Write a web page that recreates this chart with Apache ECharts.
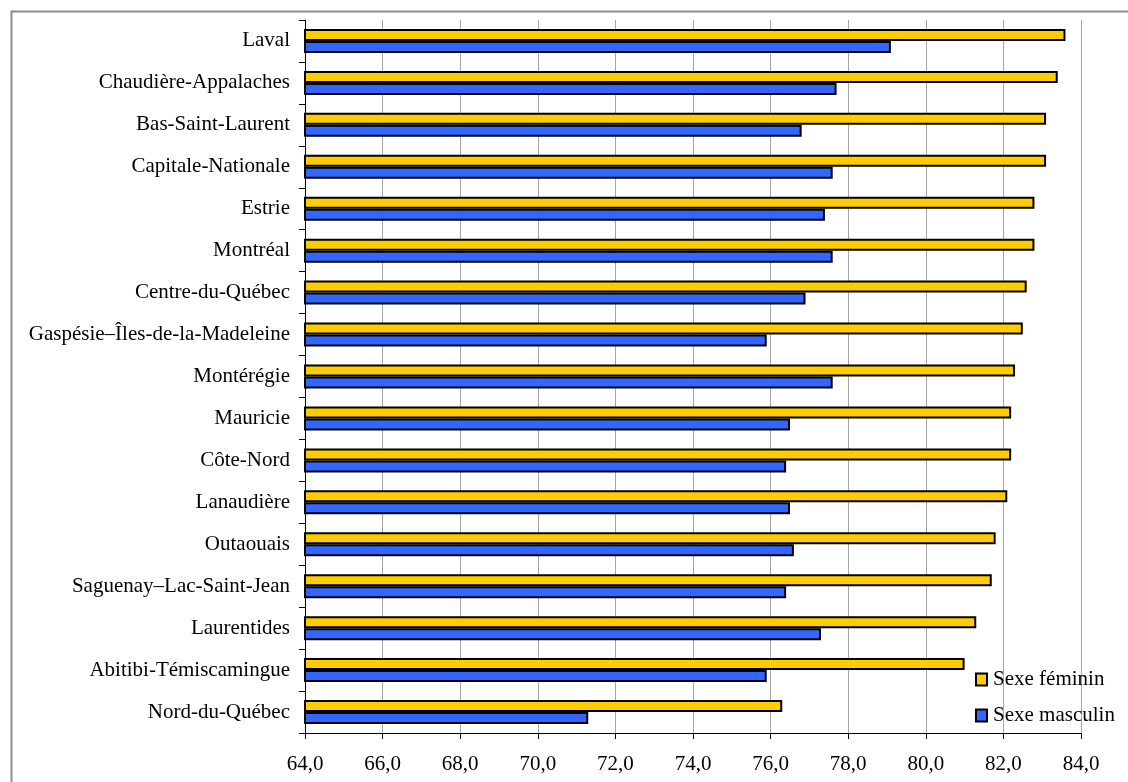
<!DOCTYPE html>
<html>
<head>
<meta charset="utf-8">
<script src="https://cdn.jsdelivr.net/npm/echarts@6/dist/echarts.min.js"></script>
<style>
html,body{margin:0;padding:0;background:#fff;}
#chart{width:1128px;height:782px;}
</style>
</head>
<body>
<div id="chart"></div>
<script>
const categories = ['Laval','Chaudière-Appalaches','Bas-Saint-Laurent','Capitale-Nationale','Estrie','Montréal','Centre-du-Québec','Gaspésie–Îles-de-la-Madeleine','Montérégie','Mauricie','Côte-Nord','Lanaudière','Outaouais','Saguenay–Lac-Saint-Jean','Laurentides','Abitibi-Témiscamingue','Nord-du-Québec'];
const feminin = [83.6, 83.4, 83.1, 83.1, 82.8, 82.8, 82.6, 82.5, 82.3, 82.2, 82.2, 82.1, 81.8, 81.7, 81.3, 81.0, 76.3];
const masculin = [79.1, 77.7, 76.8, 77.6, 77.4, 77.6, 76.9, 75.9, 77.6, 76.5, 76.4, 76.5, 76.6, 76.4, 77.3, 75.9, 71.3];
const seriesNames = ['Sexe féminin', 'Sexe masculin'];

const FONT = 'Liberation Serif';
const chart = echarts.init(document.getElementById('chart'), null, {renderer: 'canvas'});
chart.setOption({
  backgroundColor: '#ffffff',
  animation: false,
  textStyle: {fontFamily: FONT, color: '#000'},
  graphic: [{
    type: 'rect', left: 9, top: 9, z: -10, silent: true,
    shape: {x: 0, y: 0, width: 1130, height: 790},
    style: {fill: 'none', stroke: '#8c8c8c', lineWidth: 2}
  }],
  grid: {left: 305, right: 47, top: 20, bottom: 49, containLabel: false},
  legend: {
    orient: 'vertical', left: 975, top: 669, padding: 0,
    itemWidth: 11, itemHeight: 12, itemGap: 15,
    icon: 'rect',
    data: seriesNames,
    textStyle: {fontFamily: FONT, fontSize: 21, color: '#000', padding: [0, 0, 0, 1]}
  },
  xAxis: {
    type: 'value', min: 64, max: 84, interval: 2,
    axisLine: {show: true, lineStyle: {color: '#000', width: 1}},
    axisTick: {show: true, length: 6, lineStyle: {color: '#000'}},
    axisLabel: {
      fontFamily: FONT, fontSize: 21, color: '#000', margin: 21,
      formatter: v => v.toFixed(1).replace('.', ',')
    },
    splitLine: {show: true, lineStyle: {color: '#a6a6a6', width: 1}}
  },
  yAxis: {
    type: 'category', data: categories, inverse: true,
    axisLine: {show: true, lineStyle: {color: '#000', width: 1}},
    axisTick: {show: true, length: 6, lineStyle: {color: '#000'}},
    axisLabel: {fontFamily: FONT, fontSize: 21, color: '#000', margin: 15}
  },
  series: [
    {
      name: seriesNames[0], type: 'bar', data: feminin,
      barWidth: 12, barGap: '0%',
      itemStyle: {color: '#FFCC00', borderColor: '#000', borderWidth: 2}
    },
    {
      name: seriesNames[1], type: 'bar', data: masculin,
      barWidth: 12, barGap: '0%',
      itemStyle: {color: '#3366FF', borderColor: '#000', borderWidth: 2}
    }
  ]
});
</script>
</body>
</html>
